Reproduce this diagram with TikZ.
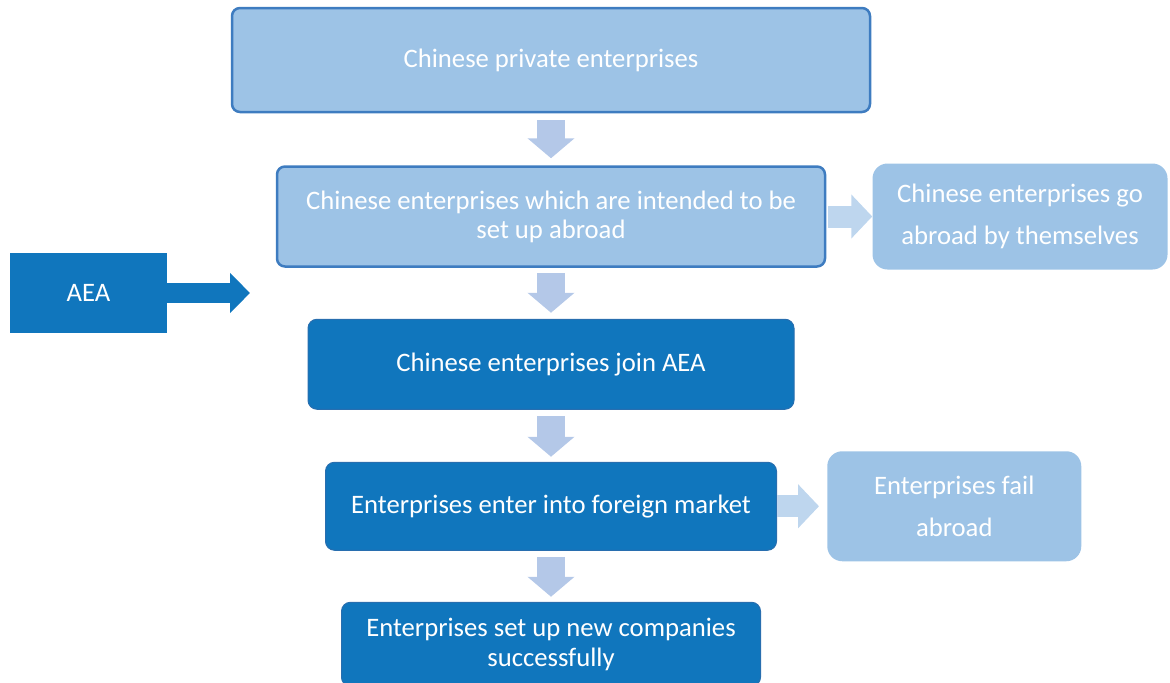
\documentclass[tikz,border=0pt]{standalone}
\usepackage{fontspec}
\setmainfont{Carlito}
\usetikzlibrary{arrows.meta, positioning}

\definecolor{lightfill}{RGB}{157,195,230}
\definecolor{lightedge}{RGB}{62,124,192}
\definecolor{darkfill}{RGB}{16,118,189}
\definecolor{darkedge}{RGB}{40,110,175}
\definecolor{downblue}{RGB}{180,200,232}
\definecolor{sideblue}{RGB}{190,214,238}

\newdimen\px
\px=0.75pt

\begin{document}
\begin{tikzpicture}[x=0.75pt, y=-0.75pt,
    lightbox/.style={rectangle, draw=lightedge, line width=2.5\px, rounded corners=8\px, fill=lightfill, text=white, font={\fontsize{20}{21.75}\selectfont}},
    sidebox/.style={rectangle, rounded corners=15\px, fill=lightfill, text=white, font={\fontsize{20}{31.5}\selectfont}},
    darkbox/.style={rectangle, draw=darkedge, line width=1\px, rounded corners=9\px, fill=darkfill, text=white, font={\fontsize{20}{22.5}\selectfont}},
    aeabox/.style={rectangle, fill=darkfill, text=white, font={\fontsize{20}{22.5}\selectfont}},
    downarrow/.style={draw=downblue, line width=28\px, -{Triangle[width=34.5pt, length=15pt]}},
    sidearrow/.style={draw=sideblue, line width=22\px, -{Triangle[width=32.25pt, length=15.75pt]}},
    aeaarrow/.style={draw=darkfill, line width=20\px, -{Triangle[width=29.25pt, length=15pt]}}
 ]
\useasboundingbox (0,0) rectangle (1170,682);
\clip (0,0) rectangle (1170,682);

\node[lightbox, align=center, minimum width=638\px, minimum height=104\px] (PrivateEnt) at (551,60) {Chinese private enterprises};

\node[lightbox, align=center, minimum width=548\px, minimum height=100\px, below=52\px of PrivateEnt] (IntendAbroad) {Chinese enterprises which are intended to be\\set up abroad};
\draw[downarrow, shorten <=7\px, shorten >=7\px] (PrivateEnt) -- (IntendAbroad);

\node[sidebox, align=center, minimum width=295\px, minimum height=106\px, right=46\px of IntendAbroad] (GoAlone) {Chinese enterprises go\\abroad by themselves};
\draw[sidearrow, shorten <=2\px] (IntendAbroad) -- (GoAlone);

\node[darkbox, align=center, minimum width=486\px, minimum height=90\px, below=51\px of IntendAbroad] (JoinAEA) {Chinese enterprises join AEA};
\draw[downarrow, shorten <=5\px, shorten >=6\px] (IntendAbroad) -- (JoinAEA);

\node[aeabox, align=center, minimum width=157\px, minimum height=80\px] (AEA) at (88.5,293) {AEA};
\coordinate (AEAEnd) at (250,293);
\draw[aeaarrow] (AEA) -- (AEAEnd);

\node[darkbox, align=center, minimum width=451\px, minimum height=88\px, below=52\px of JoinAEA] (EnterMarket) {Enterprises enter into foreign market};
\draw[downarrow, shorten <=6\px, shorten >=5\px] (JoinAEA) -- (EnterMarket);

\node[sidebox, align=center, minimum width=254\px, minimum height=110\px, right=50\px of EnterMarket] (FailAbroad) {Enterprises fail\\abroad};
\draw[sidearrow, shorten >=8\px] (EnterMarket) -- (FailAbroad);

\node[darkbox, align=center, minimum width=419\px, minimum height=84\px, below=51\px of EnterMarket] (NewCompany) {Enterprises set up new companies\\successfully};
\draw[downarrow, shorten <=6\px, shorten >=5\px] (EnterMarket) -- (NewCompany);

\end{tikzpicture}
\end{document}
